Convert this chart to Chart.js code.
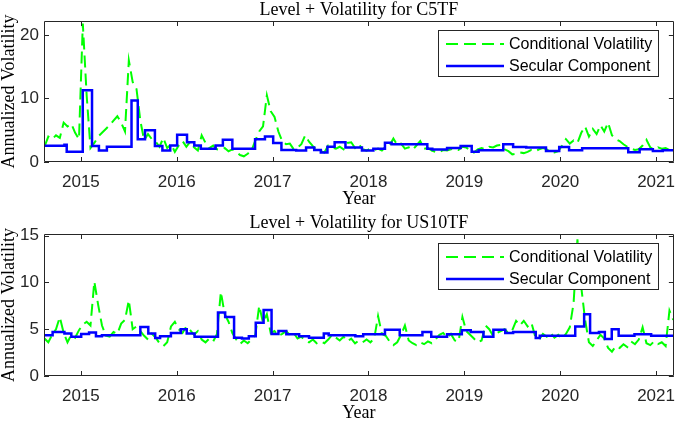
<!DOCTYPE html>
<html><head><meta charset="utf-8">
<script src="https://cdn.jsdelivr.net/npm/chart.js@4.4.0/dist/chart.umd.min.js"></script>
<style>
html,body{margin:0;padding:0;background:#fff;}
#wrap{position:relative;width:685px;height:423px;overflow:hidden;}
canvas{position:absolute;left:0;}
#c1{top:0;} #c2{top:211px;}
</style></head><body>
<div id="wrap">
<canvas id="c1" width="685" height="211"></canvas>
<canvas id="c2" width="685" height="212"></canvas>
</div>
<script>
// ---- data ----
const yearTicks = [2015, 2016, 2017, 2018, 2019, 2020, 2021];
const c5tfTicks = [0, 10, 20];
const us10Ticks = [0, 5, 10, 15];
const condStart = 2014.62, condStep = 0.04;

const c5tfCond = [
 2.4,4.0,3.6,4.2,3.8,6.2,5.6,6.0,4.6,3.6,
 21.8,10.5,2.2,3.0,4.0,4.6,5.2,5.8,6.5,7.2,
 6.2,4.8,16.0,12.6,11.5,6.5,3.4,4.4,3.6,3.2,
 2.4,3.8,2.2,2.8,1.6,2.6,3.3,2.4,3.2,2.3,
 1.8,4.2,3.0,2.2,2.6,2.0,1.9,2.2,1.7,2.0,
 1.6,1.1,0.9,1.3,1.8,3.4,4.8,5.6,10.5,8.0,
 7.1,4.8,3.3,2.8,2.9,2.0,2.3,2.8,4.2,3.2,
 2.5,1.9,1.7,1.5,2.6,2.3,2.1,2.4,2.0,3.0,
 3.1,2.2,2.8,2.0,1.8,2.1,1.9,2.1,1.8,2.4,
 2.6,3.7,2.7,2.9,2.1,2.3,1.9,2.6,3.3,2.1,
 2.2,1.8,1.6,1.5,1.9,1.8,2.0,2.1,1.9,2.4,
 2.3,1.8,1.5,2.0,2.2,2.0,2.4,2.3,2.6,2.7,
 2.0,1.7,1.2,1.3,1.5,1.4,1.6,1.9,1.7,2.0,
 2.2,2.0,1.6,1.5,1.7,2.6,3.6,2.9,3.4,3.0,
 4.6,5.6,4.0,5.2,4.4,5.8,4.8,6.2,4.2,3.6,
 3.3,2.8,2.4,2.1,1.9,2.0,2.6,3.5,2.3,1.9,
 2.3,2.1,2.2,1.9,2.1
];
const c5tfSecYears = [2014.615,2014.828,2014.852,2015.019,2015.116,2015.188,2015.271,2015.528,2015.593,2015.669,
 2015.772,2015.850,2015.932,2016.004,2016.107,2016.183,2016.251,2016.405,2016.481,2016.580,
 2016.817,2016.920,2017.006,2017.092,2017.246,2017.349,2017.434,2017.503,2017.572,2017.647,
 2017.760,2017.932,2018.051,2018.172,2018.241,2018.614,2018.666,2018.820,2018.961,2019.077,
 2019.149,2019.406,2019.509,2019.646,2019.852,2019.990,2020.093,2020.229,2020.710,2020.829,
 2020.967,2021.070,2021.186];
const c5tfSecVals = [2.55,2.7,1.6,11.3,2.5,1.8,2.4,9.7,3.6,5.0,
 2.5,1.8,2.6,4.3,3.1,2.6,2.1,2.6,3.5,2.1,
 3.6,4.0,3.0,1.9,1.8,2.3,1.9,1.5,2.4,3.1,
 2.3,1.8,2.1,3.05,2.8,2.1,1.95,2.2,2.5,1.6,
 1.85,2.8,2.35,2.3,1.75,2.35,1.85,2.15,1.55,2.0,
 1.75,1.85,1.85];

const us10Cond = [
 4.0,3.6,4.4,5.0,6.3,4.6,3.6,4.4,4.1,4.9,
 5.5,5.8,5.4,10.1,7.6,5.4,4.3,4.2,4.7,4.5,
 5.6,6.0,8.1,5.0,5.3,4.8,4.3,3.9,4.5,4.1,
 3.5,3.2,3.6,5.3,5.8,5.0,4.6,5.3,4.9,4.4,
 4.8,3.9,3.6,4.0,3.7,4.5,9.0,6.6,5.8,4.6,
 3.9,3.4,3.8,3.5,3.9,4.4,7.5,5.7,6.6,4.6,
 4.8,4.3,4.5,4.8,4.4,4.6,4.0,4.2,3.8,3.6,
 3.9,3.5,3.7,3.5,3.9,4.4,4.1,3.8,4.2,3.7,
 4.0,3.5,3.8,3.6,3.9,3.6,4.0,6.4,4.5,4.3,
 3.7,3.3,3.6,4.4,5.4,3.8,3.5,3.3,3.6,3.4,
 3.7,3.5,3.9,4.4,4.6,4.1,4.5,3.8,3.7,6.3,
 4.8,4.4,4.0,3.6,3.8,5.4,5.0,4.3,4.6,4.8,
 5.0,4.6,4.9,5.9,5.4,5.9,5.3,5.7,4.2,3.9,
 4.5,4.2,4.6,4.1,4.4,4.0,4.5,5.2,7.8,14.6,
 9.5,6.0,3.6,3.2,3.8,4.4,4.0,3.0,2.6,3.2,
 3.0,3.4,3.1,3.7,3.4,3.9,5.2,3.5,3.3,3.7,
 3.4,3.6,3.2,7.0,6.0
];
const us10SecYears = [2014.615,2014.705,2014.828,2014.900,2015.003,2015.085,2015.157,2015.219,2015.620,2015.703,
 2015.775,2015.826,2015.939,2016.042,2016.104,2016.186,2016.430,2016.505,2016.598,2016.680,
 2016.752,2016.824,2016.906,2016.989,2017.061,2017.143,2017.277,2017.380,2017.534,2017.585,
 2017.863,2017.945,2018.172,2018.326,2018.563,2018.655,2018.820,2018.974,2019.067,2019.200,
 2019.303,2019.427,2019.509,2019.745,2019.787,2020.157,2020.250,2020.312,2020.404,2020.466,
 2020.538,2020.610,2020.775,2020.949,2021.186];
const us10SecVals = [4.35,4.7,4.55,4.2,4.5,4.65,4.25,4.35,5.25,4.55,
 4.05,4.25,4.6,5.0,4.55,4.2,6.8,6.3,4.1,4.0,
 4.25,5.7,7.05,4.5,4.8,4.45,4.25,4.1,4.55,4.35,
 4.25,4.45,4.95,4.35,4.7,4.2,4.45,4.9,4.7,4.2,
 4.95,4.6,4.7,4.05,4.3,5.3,6.6,4.6,4.7,3.95,
 5.0,4.3,4.45,4.3,4.3];

// ---- helpers ----
function condPoints(vals){ return vals.map((v,i)=>({x: +(condStart + i*condStep).toFixed(3), y: v})); }
function secPoints(xs, vs){ return xs.map((x,i)=>({x: x, y: vs[i]})); }

const GREEN = '#00ff00', BLUE = '#0000ff', AXC = '#262626';

const matlabFrame = {
  id: 'matlabFrame',
  afterDatasetsDraw(chart, args, opts) {
    const ctx = chart.ctx, a = chart.chartArea, xs = chart.scales.x, ys = chart.scales.y;
    ctx.save();
    ctx.strokeStyle = AXC; ctx.lineWidth = 1; ctx.setLineDash([]);
    ctx.beginPath();
    ctx.rect(Math.round(a.left)+0.5, Math.round(a.top)+0.5, Math.round(a.right-a.left)-1, Math.round(a.bottom-a.top)-1);
    ctx.stroke();
    const L = 5;
    ctx.beginPath();
    xs.ticks.forEach(t => { const px = Math.round(xs.getPixelForValue(t.value))+0.5;
      ctx.moveTo(px, a.bottom); ctx.lineTo(px, a.bottom-L); ctx.moveTo(px, a.top); ctx.lineTo(px, a.top+L); });
    ys.ticks.forEach(t => { const py = Math.round(ys.getPixelForValue(t.value))+0.5;
      ctx.moveTo(a.left, py); ctx.lineTo(a.left+L, py); ctx.moveTo(a.right, py); ctx.lineTo(a.right-L, py); });
    ctx.stroke();
    // texts
    ctx.fillStyle = '#000';
    ctx.font = '18px "Liberation Serif", "Times New Roman", serif';
    ctx.textAlign = 'center'; ctx.textBaseline = 'middle';
    const cx = (a.left + a.right)/2;
    ctx.fillText(opts.title, cx, a.top - 11);
    ctx.fillText('Year', cx, a.bottom + 37);
    ctx.save(); ctx.translate(9, (a.top + a.bottom)/2); ctx.rotate(-Math.PI/2);
    ctx.fillText('Annualized Volatility', 0, 0); ctx.restore();
    // legend
    const bw = 221, bh = 47;
    const bx = Math.round(a.right - 14.7 - bw), by = Math.round(a.top + 9.3);
    ctx.fillStyle = '#fff'; ctx.fillRect(bx, by, bw, bh);
    ctx.strokeStyle = AXC; ctx.lineWidth = 1;
    ctx.strokeRect(bx+0.5, by+0.5, bw-1, bh-1);
    const rows = [14, 36];
    chart.data.datasets.forEach((ds, i) => {
      const ly = by + rows[i];
      ctx.save();
      ctx.strokeStyle = ds.borderColor; ctx.lineWidth = ds.borderWidth;
      ctx.setLineDash(ds.borderDash || []);
      ctx.beginPath(); ctx.moveTo(bx + 8, ly); ctx.lineTo(bx + 66, ly); ctx.stroke();
      ctx.restore();
      ctx.fillStyle = '#000';
      ctx.font = '16px "Liberation Sans", Arial, sans-serif';
      ctx.textAlign = 'left'; ctx.textBaseline = 'middle';
      ctx.fillText(ds.label, bx + 71, ly + 1);
    });
    ctx.restore();
  }
};

function makeChart(id, title, cond, secX, secV, ymax, yticks, padTop, xAxisH) {
  return new Chart(document.getElementById(id), {
    type: 'line',
    data: { datasets: [
      { label: 'Conditional Volatility', data: condPoints(cond), borderColor: GREEN, borderWidth: 2,
        borderDash: [12, 6], pointRadius: 0, tension: 0, fill: false, order: 1 },
      { label: 'Secular Component', data: secPoints(secX, secV), borderColor: BLUE, borderWidth: 2.5,
        stepped: 'before', pointRadius: 0, fill: false, order: 0 }
    ]},
    options: {
      responsive: false, animation: false, devicePixelRatio: 1,
      layout: { padding: { left: 0, right: 2, top: padTop, bottom: 0 } },
      plugins: { legend: { display: false }, title: { display: false }, tooltip: { enabled: false },
        matlabFrame: { title: title } },
      scales: {
        x: { type: 'linear', min: 2014.615, max: 2021.186,
          afterBuildTicks: s => { s.ticks = yearTicks.map(v => ({ value: v })); },
          afterFit: s => { s.height = xAxisH; },
          ticks: { callback: v => String(v), autoSkip: false, maxRotation: 0, padding: 10,
            color: AXC, font: { family: '"Liberation Sans", Arial, sans-serif', size: 17 } },
          grid: { display: false, drawTicks: false }, border: { display: false } },
        y: { type: 'linear', min: 0, max: ymax,
          afterBuildTicks: s => { s.ticks = yticks.map(v => ({ value: v })); },
          afterFit: s => { s.width = 44; },
          ticks: { callback: v => String(v), padding: 5, color: AXC,
            font: { family: '"Liberation Sans", Arial, sans-serif', size: 17 } },
          grid: { display: false, drawTicks: false }, border: { display: false } }
      }
    },
    plugins: [matlabFrame]
  });
}

makeChart('c1', 'Level + Volatility for C5TF', c5tfCond, c5tfSecYears, c5tfSecVals, 22.2, c5tfTicks, 21, 49);
makeChart('c2', 'Level + Volatility for US10TF', us10Cond, us10SecYears, us10SecVals, 15.18, us10Ticks, 23, 47);
</script>
</body></html>
